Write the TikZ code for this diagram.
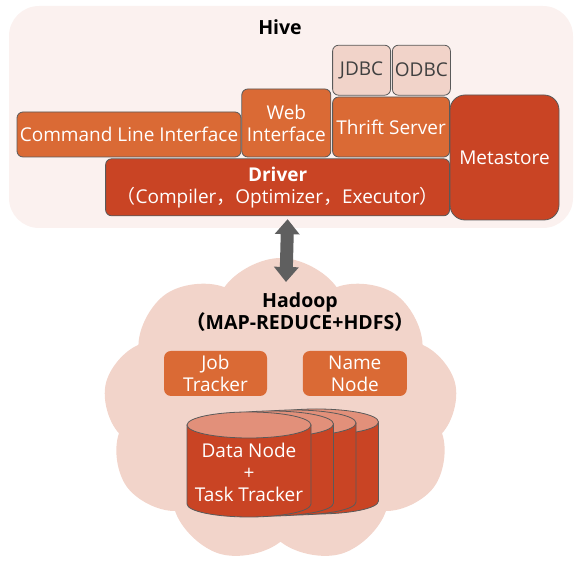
\documentclass[tikz,border=0pt]{standalone}
\usepackage{fontspec}
\setmainfont{Open Sans}
\newfontfamily\cjkfont{Noto Sans CJK SC}
\usetikzlibrary{positioning, arrows.meta, shapes.symbols}
\definecolor{hivebg}{HTML}{FBF1EF}
\definecolor{cloudbg}{HTML}{F2D4CA}
\definecolor{boxorange}{HTML}{DA6A35}
\definecolor{boxred}{HTML}{C94424}
\definecolor{boxpale}{HTML}{F1D3C9}
\definecolor{drumtop}{HTML}{E2907A}
\definecolor{edgegrey}{HTML}{5A5A5A}
\definecolor{arrowgrey}{HTML}{5F5F5F}
\newcommand{\fw}[1]{{\cjkfont #1}}
\tikzset{
  drum/.pic={
    \path[draw=edgegrey, line width=0.8pt, fill=boxred] (-62,0) -- (-62,-79) arc[start angle=180, end angle=360, x radius=62, y radius=13] -- (62,0) -- cycle;
    \path[draw=edgegrey, line width=0.8pt, fill=drumtop] (0,0) ellipse[x radius=62, y radius=13];
  }
}

\begin{document}
\begin{tikzpicture}[x=1pt, y=1pt,
  box/.style={draw=edgegrey, line width=0.8pt, rounded corners=6pt, inner sep=0pt, align=center, text=white, font=\fontsize{19}{22}\selectfont},
  title/.style={align=center, font=\fontsize{19.5}{22}\bfseries\selectfont},
  updown/.style={arrowgrey, line width=13pt, {Triangle[width=24pt,length=15pt]}-{Triangle[width=24pt,length=15pt]}}]
  \useasboundingbox (0,0) rectangle (582,578);
  \node[fill=hivebg, rounded corners=30pt, minimum width=564pt, minimum height=222pt] (hivepanel) at (291,461) {};
  \node[title] (hive) at (280,551) {Hive};
  \node[box, fill=boxorange, minimum width=224pt, minimum height=45pt] (cli) at (129,443.5) {Command Line Interface};
  \node[box, fill=boxorange, minimum width=89pt, minimum height=68pt, anchor=south west] (web) at (cli.south east) {Web\\Interface};
  \node[box, fill=boxorange, minimum width=117pt, minimum height=60pt, anchor=south west] (thrift) at ([xshift=1pt]web.south east) {Thrift Server};
  \node[box, fill=boxpale, text=black!75, minimum width=58pt, minimum height=50pt, anchor=south west] (jdbc) at ([yshift=1pt]thrift.north west) {JDBC};
  \node[box, fill=boxpale, text=black!75, minimum width=58pt, minimum height=50pt, right=1pt of jdbc] (odbc) {ODBC};
  \node[box, fill=boxred, minimum width=344pt, minimum height=57pt, anchor=north east] (driver) at ([yshift=-1pt]thrift.south east) {\textbf{Driver}\\\fw{（}Compiler\fw{，}Optimizer\fw{，}Executor\fw{）}};
  \node[box, fill=boxred, rounded corners=15pt, minimum width=109pt, minimum height=125pt] (metastore) at (504.5,420.5) {Metastore};

  \node[cloud, cloud puffs=9, cloud puff arc=110, aspect=1.16, fill=cloudbg, minimum width=355pt, minimum height=305pt, inner sep=0pt] (hadoop) at (280.5,167.5) {};
  \node[title] (hadooplabel) at (300,266) {Hadoop\\{\cjkfont\bfseries （}MAP-REDUCE+HDFS{\cjkfont\bfseries ）}};
  \node[box, draw=none, fill=boxorange, rounded corners=7pt, minimum width=103pt, minimum height=45pt] (jobtracker) at (215.5,204.5) {Job\\Tracker};
  \node[box, draw=none, fill=boxorange, rounded corners=7pt, minimum width=104pt, minimum height=45pt, right=35pt of jobtracker] (namenode) {Name\\Node};
  \pic at (316.5,156) {drum};
  \pic at (294,155) {drum};
  \pic at (271.5,154) {drum};
  \pic at (249,153) {drum};
  \node[box, draw=none] (datanode) at (249,106) {Data Node\\+\\Task Tracker};

  \coordinate (hadooptop) at (286,296);
  \draw[updown] ([xshift=10pt,yshift=-3pt]driver.south) -- (hadooptop);
\end{tikzpicture}
\end{document}
